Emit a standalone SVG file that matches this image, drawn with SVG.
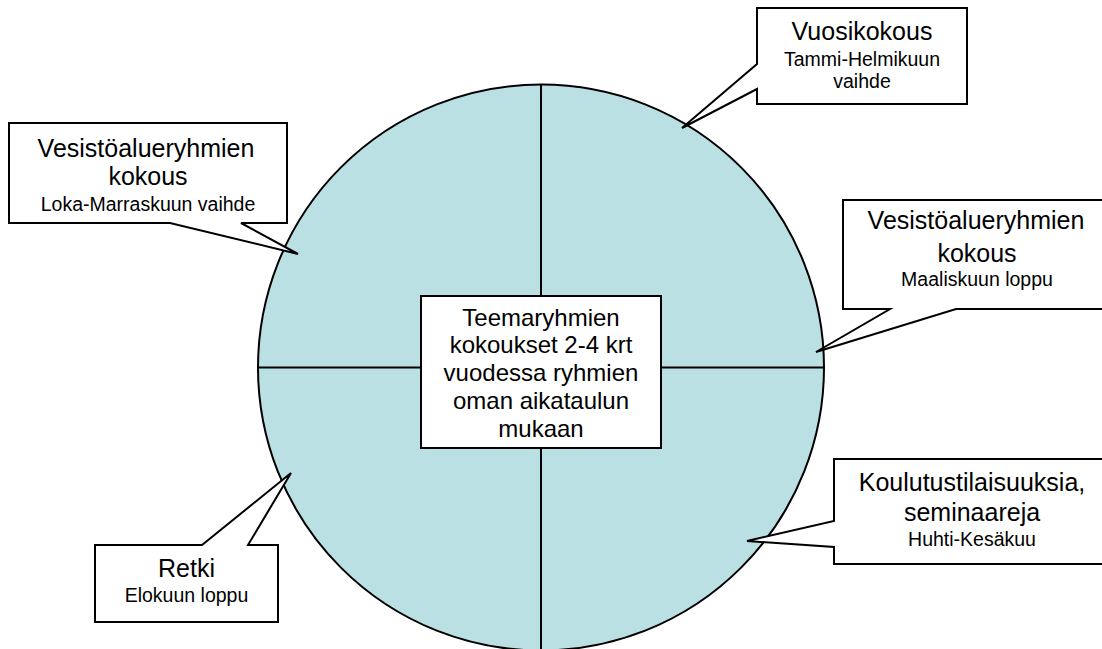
<svg xmlns="http://www.w3.org/2000/svg" width="1102" height="649" viewBox="0 0 1102 649">
<style>
.callout{fill:#fff;stroke:#000;stroke-width:2;stroke-linejoin:miter}
.t{font-family:"Liberation Sans",Arial,sans-serif;font-size:25px;fill:#000;text-anchor:middle}
.s{font-family:"Liberation Sans",Arial,sans-serif;font-size:19.5px;fill:#000;text-anchor:middle}
.c{font-family:"Liberation Sans",Arial,sans-serif;font-size:24px;fill:#000;text-anchor:middle}
.ln{stroke:#000;stroke-width:2;fill:none}
</style>
<rect width="1102" height="649" fill="#fff"/>
<g id="circle">
<circle cx="541" cy="367.5" r="283" fill="#BBE0E3" stroke="#000" stroke-width="2"/>
</g>
<g id="connectors">
<line class="ln" x1="541" y1="84.5" x2="541" y2="650.5"/>
<line class="ln" x1="258" y1="367.5" x2="824" y2="367.5"/>
</g>
<g id="center">
<rect x="421" y="296" width="240" height="152" fill="#fff" stroke="#000" stroke-width="2"/>
<text class="c" x="541" y="326">Teemaryhmien</text>
<text class="c" x="541" y="353">kokoukset 2-4 krt</text>
<text class="c" x="541" y="381">vuodessa ryhmien</text>
<text class="c" x="541" y="409">oman aikataulun</text>
<text class="c" x="541" y="437">mukaan</text>
</g>
<g id="vuosikokous">
<path class="callout" d="M757,8 H967 V104 H757 V89 L682,128 L757,64 Z"/>
<text class="t" x="862" y="40">Vuosikokous</text>
<text class="s" x="862" y="66">Tammi-Helmikuun</text>
<text class="s" x="862" y="88">vaihde</text>
</g>
<g id="vesisto-syksy">
<path class="callout" d="M9,123 H287 V223 H241 L298,254 L170,223 H9 Z"/>
<text class="t" x="146" y="157">Vesistöalueryhmien</text>
<text class="t" x="148" y="185">kokous</text>
<text class="s" x="148" y="211">Loka-Marraskuun vaihde</text>
</g>
<g id="vesisto-kevat">
<path class="callout" d="M843,200 H1113 V309 H956 L816,352 L890,309 H843 Z"/>
<text class="t" x="976" y="229">Vesistöalueryhmien</text>
<text class="t" x="977" y="262">kokous</text>
<text class="s" x="977" y="286">Maaliskuun loppu</text>
</g>
<g id="koulutus">
<path class="callout" d="M834,459 H1112 V564 H834 V547 L747,541 L834,521 Z"/>
<text class="t" x="972" y="491">Koulutustilaisuuksia,</text>
<text class="t" x="972" y="521">seminaareja</text>
<text class="s" x="972" y="546">Huhti-Kesäkuu</text>
</g>
<g id="retki">
<path class="callout" d="M95,545 H202 L291,473 L248,545 H278 V622 H95 Z"/>
<text class="t" x="186.5" y="577">Retki</text>
<text class="s" x="186.5" y="602">Elokuun loppu</text>
</g>
</svg>
